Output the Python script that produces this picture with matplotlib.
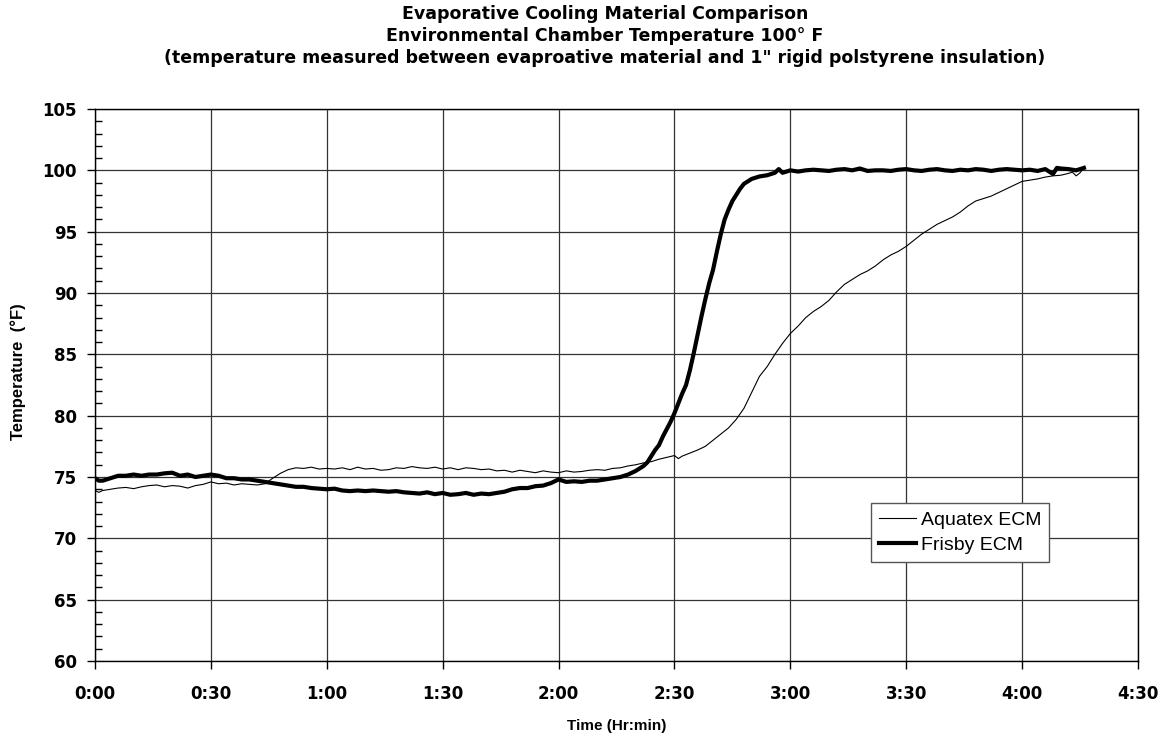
import matplotlib
matplotlib.use("Agg")
import matplotlib.pyplot as plt
from matplotlib.ticker import MultipleLocator, FuncFormatter

plt.rcParams['font.family'] = ['Liberation Sans', 'DejaVu Sans']

# time in minutes, temperature in deg F
frisby_t = [0, 1, 2, 4, 6, 8, 10, 12, 14, 16, 18, 20, 22, 24, 26, 28, 30, 32, 34, 36,
            38, 40, 42, 44, 46, 48, 50, 52, 54, 56, 58, 60, 62, 64, 66, 68, 70, 72, 74, 76,
            78, 80, 82, 84, 86, 88, 90, 92, 94, 96, 98, 100, 102, 104, 106, 108, 110, 112,
            114, 116, 118, 120, 122, 124, 126, 128, 130, 132, 134, 136, 138, 140, 142, 143,
            144, 145, 146, 147, 148, 149, 150, 151, 152, 153, 154, 155, 156, 157, 158, 159,
            160, 161, 162, 163, 164, 165, 166, 167, 168, 169, 170, 172, 174, 176, 177, 178,
            180, 182, 184, 186, 188, 190, 192, 194, 196, 198, 200, 202, 204, 206, 208, 210,
            212, 214, 216, 218, 220, 222, 224, 226, 228, 230, 232, 234, 236, 238, 240, 242,
            244, 246, 248, 249, 250, 252, 254, 256]
frisby_temp = [74.9, 74.7, 74.7, 74.9, 75.1, 75.1, 75.2, 75.1, 75.2, 75.2, 75.3, 75.35, 75.1,
               75.2, 75.0, 75.1, 75.2, 75.1, 74.9, 74.9, 74.8, 74.8, 74.7, 74.6, 74.5, 74.4,
               74.3, 74.2, 74.2, 74.1, 74.05, 74.0, 74.05, 73.9, 73.85, 73.9, 73.85, 73.9,
               73.85, 73.8, 73.85, 73.75, 73.7, 73.65, 73.75, 73.6, 73.7, 73.55, 73.6, 73.7,
               73.55, 73.65, 73.6, 73.7, 73.8, 74.0, 74.1, 74.1, 74.25, 74.3, 74.5, 74.8,
               74.6, 74.65, 74.6, 74.7, 74.7, 74.8, 74.9, 75.0, 75.2, 75.5, 75.9, 76.2, 76.7,
               77.2, 77.6, 78.3, 78.9, 79.5, 80.2, 81.0, 81.8, 82.5, 83.7, 85.1, 86.6, 88.1,
               89.5, 90.8, 91.9, 93.4, 94.8, 96.0, 96.8, 97.5, 98.0, 98.5, 98.9, 99.1, 99.3,
               99.5, 99.6, 99.8, 100.1, 99.8, 100.0, 99.9, 100.0, 100.05, 100.0, 99.95,
               100.05, 100.1, 100.0, 100.15, 99.95, 100.0, 100.0, 99.95, 100.05, 100.1, 100.0,
               99.95, 100.05, 100.1, 100.0, 99.95, 100.05, 100.0, 100.1, 100.05, 99.95,
               100.05, 100.1, 100.05, 100.0, 100.05, 99.95, 100.1, 99.7, 100.2, 100.15,
               100.1, 100.0, 100.2]

aquatex_t = [0, 1, 2, 4, 6, 8, 10, 12, 14, 16, 18, 20, 22, 24, 26, 28, 30, 32, 34, 36, 38,
             40, 42, 44, 46, 48, 50, 52, 54, 56, 58, 60, 62, 64, 66, 68, 70, 72, 74, 76, 78,
             80, 82, 84, 86, 88, 90, 92, 94, 96, 98, 100, 102, 104, 106, 108, 110, 112, 114,
             116, 118, 120, 122, 124, 126, 128, 130, 132, 134, 136, 138, 140, 142, 144, 146,
             148, 150, 151, 152, 154, 156, 158, 160, 162, 164, 166, 168, 170, 172, 174, 176,
             178, 180, 182, 184, 186, 188, 190, 192, 194, 196, 198, 200, 202, 204, 206, 208,
             210, 212, 214, 216, 218, 220, 222, 224, 226, 228, 230, 232, 234, 236, 238, 240,
             242, 244, 246, 248, 250, 252, 253, 254, 255, 256]
aquatex_temp = [73.9, 73.75, 73.9, 74.0, 74.1, 74.15, 74.05, 74.2, 74.3, 74.35, 74.2, 74.3,
                74.25, 74.1, 74.3, 74.4, 74.6, 74.45, 74.5, 74.35, 74.45, 74.4, 74.35, 74.45,
                74.9, 75.3, 75.6, 75.75, 75.7, 75.8, 75.65, 75.7, 75.65, 75.75, 75.6, 75.8,
                75.65, 75.7, 75.55, 75.6, 75.75, 75.7, 75.85, 75.75, 75.7, 75.8, 75.65, 75.75,
                75.6, 75.75, 75.7, 75.6, 75.65, 75.5, 75.55, 75.4, 75.55, 75.45, 75.35, 75.5,
                75.4, 75.35, 75.5, 75.4, 75.45, 75.55, 75.6, 75.55, 75.7, 75.75, 75.9, 76.0,
                76.15, 76.25, 76.45, 76.6, 76.75, 76.5, 76.7, 76.95, 77.2, 77.5, 78.0, 78.5,
                79.0, 79.7, 80.6, 81.9, 83.2, 84.0, 85.0, 85.9, 86.7, 87.3, 88.0, 88.5, 88.9,
                89.4, 90.1, 90.7, 91.1, 91.5, 91.8, 92.2, 92.7, 93.1, 93.4, 93.8, 94.3, 94.8,
                95.2, 95.6, 95.9, 96.2, 96.6, 97.1, 97.5, 97.7, 97.9, 98.2, 98.5, 98.8, 99.1,
                99.2, 99.3, 99.45, 99.55, 99.6, 99.75, 99.85, 99.55, 99.8, 100.2]

W, H = 1169, 740
fig = plt.figure(figsize=(W / 100, H / 100), dpi=100)
ax = fig.add_axes([95 / W, 1 - 661 / H, (1138 - 95) / W, (661 - 109) / H])

ax.plot(aquatex_t, aquatex_temp, color='black', lw=0.8, label='Aquatex ECM')
ax.plot(frisby_t, frisby_temp, color='black', lw=3.0, label='Frisby ECM')

ax.set_xlim(0, 270)
ax.set_ylim(60, 105)
ax.xaxis.set_major_locator(MultipleLocator(30))
ax.xaxis.set_major_formatter(FuncFormatter(lambda v, p: f"{int(v) // 60}:{int(v) % 60:02d}"))
ax.yaxis.set_major_locator(MultipleLocator(5))
ax.yaxis.set_minor_locator(MultipleLocator(1))

ax.grid(True, which='major', color='#333333', lw=0.9)
ax.set_axisbelow(True)
ax.tick_params(which='major', direction='out', length=6, width=1, labelsize=12)
ax.tick_params(axis='x', pad=11)
ax.tick_params(axis='y', pad=7)
ax.tick_params(axis='y', which='minor', direction='in', length=5, width=1)
for lab in ax.get_xticklabels() + ax.get_yticklabels():
    lab.set_fontweight('bold')
    lab.set_family('DejaVu Sans')
for s in ax.spines.values():
    s.set_linewidth(1)

fig.text(617 / W, 1 - 726 / H, 'Time (Hr:min)', ha='center', va='center',
         fontsize=11, fontweight='bold')
fig.text(18 / W, 1 - 372 / H, 'Temperature  (°F)', ha='center', va='center',
         rotation=90, fontsize=12, fontweight='bold')
fig.text(605 / W, 1 - 5 / H,
         "Evaporative Cooling Material Comparison\n"
         "Environmental Chamber Temperature 100° F\n"
         "(temperature measured between evaproative material and 1\" rigid polstyrene insulation)",
         ha='center', va='top', fontsize=12.5, fontweight='bold', family='DejaVu Sans',
         linespacing=1.3)

leg = ax.legend(loc='upper left', bbox_to_anchor=(0.744, 0.286), fontsize=14,
                fancybox=False, framealpha=1, edgecolor='#555555', handlelength=1.9,
                handletextpad=0.25, borderpad=0.4, labelspacing=0.4, borderaxespad=0)
leg.get_frame().set_linewidth(1)

fig.savefig('out.png', dpi=100)
